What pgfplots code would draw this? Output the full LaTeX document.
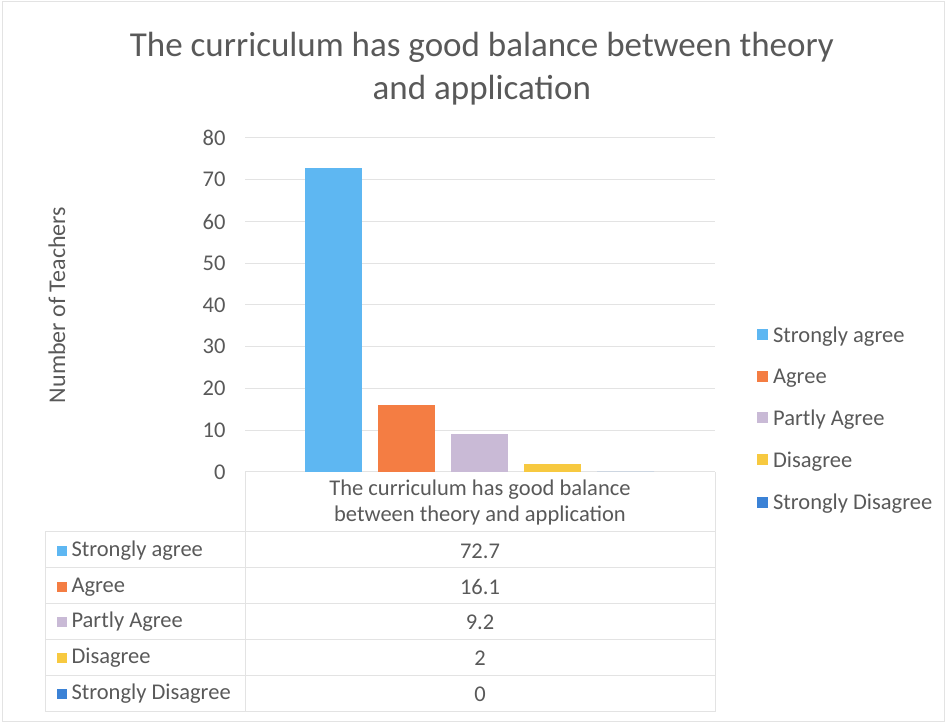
\documentclass[border=0pt]{standalone}
\usepackage{fontspec}
\setmainfont{Carlito}
\usepackage{pgfplots}
\pgfplotsset{compat=1.18}
\definecolor{csa}{HTML}{5EB7F2}
\definecolor{cag}{HTML}{F47D43}
\definecolor{cpa}{HTML}{C9BAD6}
\definecolor{cdi}{HTML}{F7C940}
\definecolor{csd}{HTML}{3B82D6}
\definecolor{ctxt}{HTML}{595959}
\definecolor{cgrid}{HTML}{E3E3E3}
\newcommand{\sq}[1]{\textcolor{#1}{\rule[0.5bp]{10bp}{10bp}}}
\begin{document}
\begin{tikzpicture}[x=1bp,y=1bp]
\path (0,0) rectangle (946,724);
\draw[cgrid, line width=1bp] (2,2) rectangle (944,722);
\begin{axis}[
  at={(245bp,252bp)}, anchor=south west,
  scale only axis, width=470bp, height=334bp,
  xmin=0, xmax=470, ymin=0, ymax=80,
  ytick={0,10,...,80}, xtick=\empty,
  ymajorgrids, grid style={cgrid, line width=1bp},
  axis line style={draw=none}, major tick length=0pt,
  /pgf/number format/assume math mode=true,
  font=\fontsize{22.5bp}{27bp}\selectfont,
  tick label style={text=ctxt},
  yticklabel style={xshift=-16bp},
  ylabel={Number of Teachers},
  ylabel style={at={(axis description cs:-0.4,0.5)}, anchor=center, text=ctxt, font=\fontsize{24bp}{28bp}\selectfont},
  title={The curriculum has good balance between theory\\and application},
  title style={at={(axis description cs:0.504,1.1886)}, anchor=center, align=center, text=ctxt, font=\fontsize{35bp}{43bp}\selectfont},
  ybar, bar width=57bp, bar shift=0pt,
  legend style={at={(axis description cs:1.0896,0.1587)}, anchor=west, draw=none, fill=none, text=ctxt, row sep=21bp, column sep=3bp, font=\fontsize{22.5bp}{27bp}\selectfont, inner sep=0pt, outer sep=0pt},
  legend cell align=left,
  legend image code/.code={\fill[#1] (0bp,-5bp) rectangle (11bp,6bp);},
]
\addplot[fill=csa, draw=none] coordinates {(88.5,72.7)};
\addplot[fill=cag, draw=none] coordinates {(161.5,16.1)};
\addplot[fill=cpa, draw=none] coordinates {(234.5,9.2)};
\addplot[fill=cdi, draw=none] coordinates {(307.5,2)};
\addplot[fill=csd, draw=none] coordinates {(380.5,0)};
\legend{Strongly agree, Agree, Partly Agree, Disagree, Strongly Disagree}
\end{axis}
% data table
\begin{scope}[cgrid, line width=1bp]
\foreach \yy in {532,568,604,640,676,712} {\draw (45,724-\yy) -- (715,724-\yy);}
\draw (45,724-532) -- (45,724-712);
\draw (245,724-472) -- (245,724-712);
\draw (715,724-472) -- (715,724-712);
\end{scope}
\begin{scope}[font=\fontsize{22.5bp}{26bp}\selectfont, text=ctxt]
\node[align=center] at (480,724-503) {The curriculum has good balance\\between theory and application};
\node[anchor=west] at (53,724-551) {\sq{csa}\hspace{5bp}Strongly agree};
\node[anchor=west] at (53,724-587) {\sq{cag}\hspace{5bp}Agree};
\node[anchor=west] at (53,724-622) {\sq{cpa}\hspace{5bp}Partly Agree};
\node[anchor=west] at (53,724-658) {\sq{cdi}\hspace{5bp}Disagree};
\node[anchor=west] at (53,724-694) {\sq{csd}\hspace{5bp}Strongly Disagree};
\node at (480,724-551) {72.7};
\node at (480,724-587) {16.1};
\node at (480,724-622) {9.2};
\node at (480,724-658) {2};
\node at (480,724-694) {0};
\end{scope}
\end{tikzpicture}
\end{document}
